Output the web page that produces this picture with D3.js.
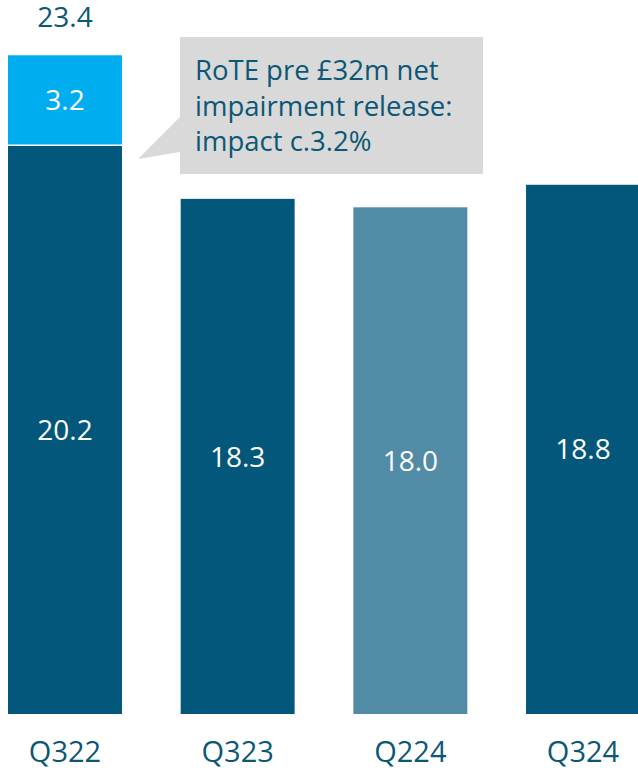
<!DOCTYPE html>
<html>
<head>
<meta charset="utf-8">
<script src="https://cdn.jsdelivr.net/npm/d3@7"></script>
<style>
  html, body { margin: 0; padding: 0; background: #fff; }
  svg { display: block; }
  text { font-family: "Open Sans", "DejaVu Sans", sans-serif; }
</style>
</head>
<body>
<div id="chart"></div>
<script>
// Quarterly RoTE (%), with the impairment-release uplift stacked on Q322
const categories = ["Q322", "Q323", "Q224", "Q324"];
const baseValues = [20.2, 18.3, 18.0, 18.8];
const upliftValues = [3.2, 0, 0, 0];
const totalLabels = ["23.4", null, null, null];
const barColors = ["#03577A", "#03577A", "#528BA5", "#03577A"];
const upliftColor = "#00AEEF";
const calloutLines = ["RoTE pre £32m net", "impairment release:", "impact c.3.2%"];

const W = 638, H = 771;
const textColor = "#0B5776";

const svg = d3.select("#chart").append("svg")
  .attr("width", W).attr("height", H);

const x = d3.scaleBand()
  .domain(categories)
  .range([8, 640])
  .paddingInner(0.34)
  .paddingOuter(0);

const y = d3.scaleLinear()
  .domain([0, 25])
  .range([714, 714 - 25 * 28.15]);

const rows = categories.map((c, i) => ({
  cat: c, base: baseValues[i], up: upliftValues[i], total: totalLabels[i], color: barColors[i]
}));

// base bars
svg.selectAll("rect.base").data(rows).join("rect")
  .attr("class", "base")
  .attr("x", d => x(d.cat))
  .attr("width", x.bandwidth())
  .attr("y", d => y(d.base))
  .attr("height", d => y(0) - y(d.base))
  .attr("fill", d => d.color);

// stacked uplift segments
const ups = rows.filter(d => d.up > 0);
svg.selectAll("rect.up").data(ups).join("rect")
  .attr("class", "up")
  .attr("x", d => x(d.cat))
  .attr("width", x.bandwidth())
  .attr("y", d => y(d.base + d.up))
  .attr("height", d => y(d.base) - y(d.base + d.up))
  .attr("fill", upliftColor);

// thin white divider between segments
svg.selectAll("line.div").data(ups).join("line")
  .attr("x1", d => x(d.cat)).attr("x2", d => x(d.cat) + x.bandwidth())
  .attr("y1", d => y(d.base)).attr("y2", d => y(d.base))
  .attr("stroke", "#fff").attr("stroke-width", 1.5);

// value labels inside bars
svg.selectAll("text.base").data(rows).join("text")
  .attr("class", "base")
  .attr("x", d => x(d.cat) + x.bandwidth() / 2)
  .attr("y", d => (y(0) + y(d.base)) / 2)
  .attr("dy", "0.36em")
  .attr("text-anchor", "middle")
  .attr("fill", "#fff")
  .attr("font-size", 28)
  .text(d => d3.format(".1f")(d.base));

svg.selectAll("text.up").data(ups).join("text")
  .attr("class", "up")
  .attr("x", d => x(d.cat) + x.bandwidth() / 2)
  .attr("y", d => (y(d.base) + y(d.base + d.up)) / 2)
  .attr("dy", "0.36em")
  .attr("text-anchor", "middle")
  .attr("fill", "#fff")
  .attr("font-size", 28)
  .text(d => d3.format(".1f")(d.up));

// total labels above bars
svg.selectAll("text.total").data(rows.filter(d => d.total)).join("text")
  .attr("class", "total")
  .attr("x", d => x(d.cat) + x.bandwidth() / 2)
  .attr("y", 27)
  .attr("text-anchor", "middle")
  .attr("fill", textColor)
  .attr("font-size", 28)
  .text(d => d.total);

// category axis labels
const axis = d3.axisBottom(x).tickSize(0).tickPadding(0);
const gAxis = svg.append("g").attr("transform", "translate(0,741)").call(axis);
gAxis.select(".domain").remove();
gAxis.selectAll("text")
  .attr("font-family", "\"Open Sans\", sans-serif")
  .attr("font-size", 29)
  .attr("fill", textColor)
  .attr("dy", "0.71em");

// callout box with pointer towards the uplift segment
const callout = svg.append("g");
callout.append("path")
  .attr("d", "M180,37 H483 V174 H180 V152 L138,159 L180,117 Z")
  .attr("fill", "#D9D9D9");
callout.selectAll("text").data(calloutLines).join("text")
  .attr("x", 195)
  .attr("y", (d, i) => 80 + i * 35.5)
  .attr("fill", textColor)
  .attr("font-size", 27.5)
  .text(d => d);
</script>
</body>
</html>
